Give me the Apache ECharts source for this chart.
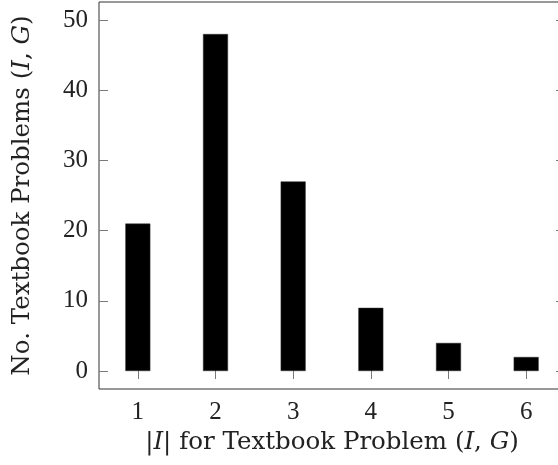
<!DOCTYPE html>
<html>
<head>
<meta charset="utf-8">
<script src="https://cdn.jsdelivr.net/npm/echarts@6/dist/echarts.min.js"></script>
<style>
  html, body { margin: 0; padding: 0; background: #fff; }
  #chart { width: 558px; height: 465px; }
</style>
</head>
<body>
<div id="chart"></div>
<script>
// Problem sizes |I| and how many textbook problems have each size
const sizes = [1, 2, 3, 4, 5, 6];
const counts = [21, 48, 27, 9, 4, 2];
const yTicks = [0, 10, 20, 30, 40, 50];

const FONT = '"Liberation Serif", "DejaVu Serif", serif';
const TITLE_FONT = '"DejaVu Serif", "Liberation Serif", serif';
const TITLE_SIZE = 24.5;
const INK = '#222';
const TICK = '#7a7a7a';

const chart = echarts.init(document.getElementById('chart'), null, { renderer: 'canvas' });

const rich = {
  i: { fontFamily: TITLE_FONT, fontStyle: 'italic', fontSize: TITLE_SIZE, color: INK }
};

const hiddenLine = { show: false };

chart.setOption({
  animation: false,
  backgroundColor: '#fff',
  grid: {
    left: 99, top: 2, width: 466, height: 387,
    outerBoundsMode: 'none',
    show: true, borderColor: '#333', borderWidth: 1, backgroundColor: 'transparent'
  },
  xAxis: [
    {
      type: 'value', min: 0.5, max: 6.5, position: 'bottom',
      axisLine: hiddenLine, splitLine: { show: false },
      axisTick: { show: true, inside: true, length: 8, customValues: sizes, lineStyle: { color: TICK } },
      axisLabel: { customValues: sizes, margin: 11, fontFamily: FONT, fontSize: 25, color: INK },
      name: '|{i|I}| for Textbook Problem ({i|I}, {i|G})',
      nameLocation: 'middle', nameGap: 37,
      nameTextStyle: { fontFamily: TITLE_FONT, fontSize: TITLE_SIZE, color: INK, rich }
    },
    {
      type: 'value', min: 0.5, max: 6.5, position: 'top',
      axisLine: hiddenLine, splitLine: { show: false },
      axisTick: { show: true, inside: true, length: 8, customValues: sizes, lineStyle: { color: TICK } },
      axisLabel: { show: false }
    }
  ],
  yAxis: [
    {
      type: 'value', min: -2.56, max: 52.56, position: 'left',
      axisLine: hiddenLine, splitLine: { show: false },
      axisTick: { show: true, inside: true, length: 9, customValues: yTicks, lineStyle: { color: TICK } },
      axisLabel: { customValues: yTicks, margin: 11, fontFamily: FONT, fontSize: 25, color: INK },
      name: 'No. Textbook Problems ({i|I}, {i|G})',
      nameLocation: 'middle', nameGap: 64,
      nameTextStyle: { fontFamily: TITLE_FONT, fontSize: TITLE_SIZE, color: INK, rich }
    },
    {
      type: 'value', min: -2.56, max: 52.56, position: 'right',
      axisLine: hiddenLine, splitLine: { show: false },
      axisTick: { show: true, inside: true, length: 9, customValues: yTicks, lineStyle: { color: TICK } },
      axisLabel: { show: false }
    }
  ],
  series: [
    {
      type: 'bar',
      xAxisIndex: 0, yAxisIndex: 0,
      data: sizes.map((s, k) => [s, counts[k]]),
      barWidth: 25,
      itemStyle: { color: '#000', borderColor: '#333', borderWidth: 0.5 }
    }
  ]
});
</script>
</body>
</html>
